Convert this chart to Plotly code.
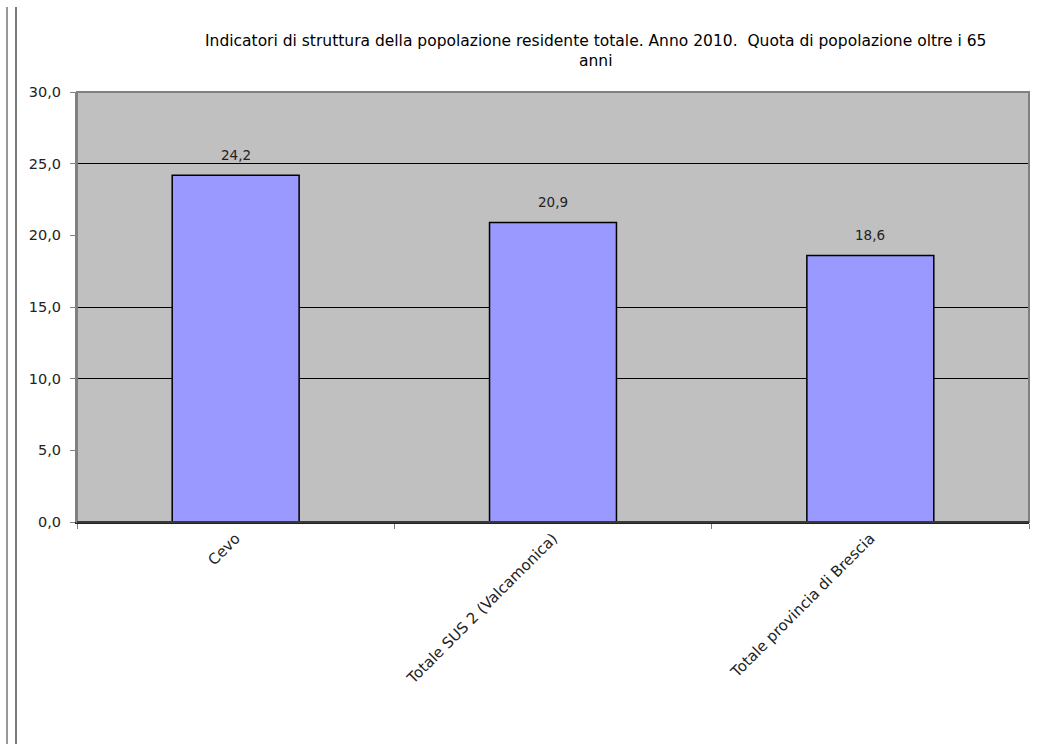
import plotly.graph_objects as go

categories = ["Cevo", "Totale SUS 2 (Valcamonica)", "Totale provincia di Brescia"]
values = [24.2, 20.9, 18.6]
y_ticks = [0, 5, 10, 15, 20, 25, 30]
grid_vals = [10, 15, 25]
title_text = ("Indicatori di struttura della popolazione residente totale. Anno 2010.  "
              "Quota di popolazione oltre i 65<br>anni")

W, H = 1037, 744
L, R, T, B = 77, 8, 92, 222
pw, ph = W - L - R, H - T - B
FONT = "DejaVu Sans, Arial"

def px_x(x):
    return (x - L) / pw

def px_y(y):
    return (H - B - y) / ph

fig = go.Figure()
fig.add_trace(go.Bar(
    x=categories, y=values,
    marker=dict(color="#9999FF", line=dict(color="black", width=1.5)),
    width=0.4, hoverinfo="x+y",
))
fig.add_trace(go.Scatter(x=categories, y=values, yaxis="y2", mode="markers",
                         marker=dict(opacity=0), hoverinfo="skip", showlegend=False))

annotations = [
    dict(x=c, y=v, xref="x", yref="y", text=f"{v:.1f}".replace(".", ","),
         showarrow=False, yanchor="bottom", yshift=10,
         font=dict(family=FONT, size=13.5, color="#222"))
    for c, v in zip(categories, values)
]
annotations.append(
    dict(text=title_text, xref="paper", yref="paper", x=px_x(595), y=px_y(51),
         showarrow=False, xanchor="center", yanchor="middle", align="center",
         font=dict(family=FONT, size=15.5, color="black"))
)

fig.update_layout(
    width=W, height=H,
    margin=dict(l=L, r=R, t=T, b=B, pad=0),
    paper_bgcolor="white",
    plot_bgcolor="#C0C0C0",
    showlegend=False,
    separators=",.",
    font=dict(family=FONT, size=13, color="#222"),
    xaxis=dict(
        tickangle=-45, tickson="boundaries", ticks="outside", ticklen=5,
        tickcolor="#808080", showline=True, linecolor="#222", linewidth=1.5,
        tickfont=dict(family=FONT, size=15, color="#222"), showgrid=False,
    ),
    yaxis=dict(
        range=[0, 30], tickvals=y_ticks, tickformat=".1f", ticks="outside",
        ticklen=5, tickcolor="#808080", showgrid=False, showline=True,
        linecolor="#808080", linewidth=2, zeroline=False,
        ticklabelstandoff=6,
        tickfont=dict(family=FONT, size=14.5, color="#222"),
    ),
    yaxis2=dict(
        range=[0, 30], overlaying="y", tickvals=grid_vals, showticklabels=False,
        showgrid=True, gridcolor="black", gridwidth=1, zeroline=False,
        showline=False, layer="below traces",
    ),
    shapes=[
        dict(type="rect", xref="paper", yref="paper", x0=0, x1=1, y0=0, y1=1,
             line=dict(color="#808080", width=2), layer="above"),
        dict(type="line", xref="paper", yref="paper", x0=px_x(7), x1=px_x(7),
             y0=px_y(7), y1=px_y(H), line=dict(color="#333", width=1)),
        dict(type="line", xref="paper", yref="paper", x0=px_x(16), x1=px_x(16),
             y0=px_y(7), y1=px_y(H), line=dict(color="#222", width=1.2)),
    ],
    annotations=annotations,
)
fig.add_shape(type="line", xref="paper", yref="paper", x0=0, x1=1, y0=0, y1=0,
              line=dict(color="#222", width=1.5), layer="above")

fig.write_html("out.html", config={"displayModeBar": False},
               post_script="document.body.style.margin='0';document.body.style.overflow='hidden';")
